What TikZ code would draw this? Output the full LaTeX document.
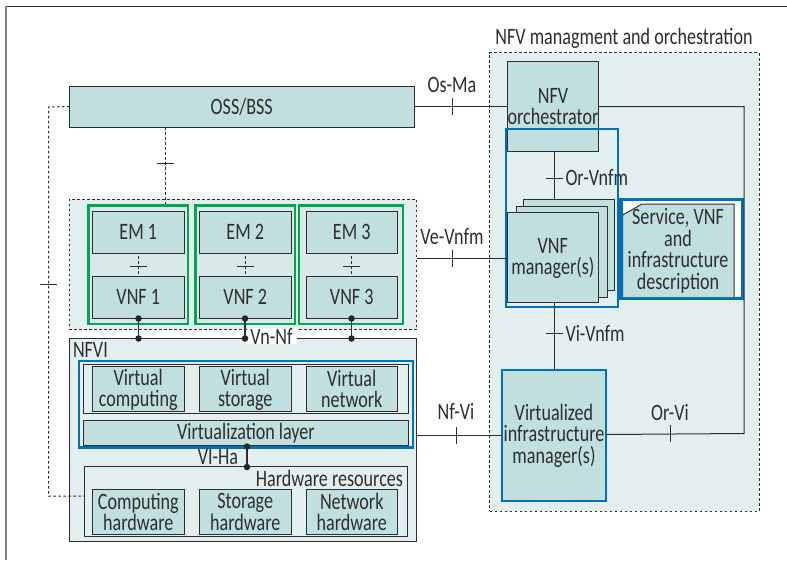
\documentclass[tikz,border=0pt]{standalone}
\usepackage{fontspec}
\setmainfont[FakeStretch=0.77]{Carlito}
\usetikzlibrary{calc}
\definecolor{boxfill}{HTML}{C1DFDF}
\definecolor{pale}{HTML}{E3EFEF}
\definecolor{mid}{HTML}{D8E9E8}
\definecolor{ink}{HTML}{2E2E2E}
\definecolor{grn}{HTML}{00A651}
\definecolor{blu}{HTML}{0070BA}
\newcommand\bx[7][]{%
  \pgfmathsetmacro\bxw{#4-#2}\pgfmathsetmacro\bxh{#5-#3}%
  \node[#6,minimum width=\bxw pt,minimum height=\bxh pt,#1] (#7) at ({(#2+#4)/2},{(#3+#5)/2}) {};}
\newcommand\tickh[2]{\draw[tick] ($(#1,#2)+(-8.5,0)$) -- ($(#1,#2)+(8.5,0)$);}
\newcommand\tickv[2]{\draw[tick] ($(#1,#2)+(0,-8.5)$) -- ($(#1,#2)+(0,8.5)$);}
\tikzset{
  x=1pt,y=-1pt,
  every node/.style={inner sep=0pt,outer sep=0pt,text=ink,font=\fontsize{23.5}{21.5}\selectfont,align=center},
  fbox/.style={draw=ink,line width=1pt,fill=boxfill},
  plain/.style={draw=ink,line width=1pt,fill=pale},
  dregion/.style={draw=ink,line width=1pt,dash pattern=on 2.5pt off 2.5pt,fill=pale},
  grp/.style={draw=grn,line width=2.6pt,fill=mid},
  blubox/.style={draw=blu,line width=2.8pt},
  wire/.style={draw=ink,line width=1pt},
  tick/.style={draw=ink,line width=.8pt},
  dwire/.style={draw=ink,line width=1pt,dash pattern=on 2.5pt off 2.5pt},
  dot/.style={circle,fill=black!85,minimum size=6.5pt},
}
\begin{document}
\begin{tikzpicture}
\useasboundingbox (0,0) rectangle (787,560);
\fill[white] (0,0) rectangle (787,560);
\draw[black!85,line width=1pt] (787,6.3) -- (6,6.3);
\draw[black!50,line width=1.2pt] (6,6.3) -- (6,560);

% regions
\bx{489.5}{52.7}{759}{511}{dregion}{mano}
\bx{69}{199}{416.5}{329.5}{dregion}{vnflayer}
\bx{69}{338}{416.5}{541}{plain}{nfvi}

% OSS
\bx{69.5}{86}{414}{127}{fbox}{oss}
\node at (oss.center) {OSS/BSS};

% VNF columns
\foreach \n/\a/\b/\c/\d in {1/88.5/188/92.5/184,2/195.5/295/199.5/291,3/299/403/306/397.5}{
  \bx{\a}{205.5}{\b}{324}{grp}{g\n}
  \bx{\c}{211}{\d}{253}{fbox}{em\n}
  \node at (em\n.center) {EM \n};
  \bx{\c}{276}{\d}{318.5}{fbox}{vnf\n}
  \node at (vnf\n.center) {VNF \n};
  \draw[dwire] (em\n.south) ++(0,3) -- (vnf\n.north);
  \path (em\n.south) -- (vnf\n.north) coordinate[midway] (m\n);
  \draw[tick] ($(m\n)+(-8.5,2)$) -- ($(m\n)+(8.5,2)$);
}

% Virtualisation block
\bx{83}{364.5}{408.5}{413.5}{plain}{virt}
\bx{92.5}{366.5}{184}{411.5}{fbox}{vc}
\node[yshift=-1pt] at (vc.center) {Virtual\\computing};
\bx{199.5}{366.5}{291}{411.5}{fbox}{vs}
\node[yshift=-1pt] at (vs.center) {Virtual\\storage};
\bx{306}{366.5}{397.5}{411.5}{fbox}{vn}
\node at (vn.center) {Virtual\\network};
\bx{83.5}{420}{408.5}{445.5}{fbox}{vlayer}
\node at (vlayer.center) {Virtualization layer};
\bx[fill=none]{79}{361}{413}{447.5}{blubox}{vblue}

% Hardware
\bx{84}{466.5}{407.5}{536.5}{plain}{hw}
\node[anchor=east] (hwlab) at (403,478) {Hardware resources};
\bx{92.5}{489.5}{184}{534.5}{fbox}{hc}
\node at (hc.center) {Computing\\hardware};
\bx{199.5}{489.5}{291}{534.5}{fbox}{hs}
\node at (hs.center) {Storage\\hardware};
\bx{306}{489.5}{397.5}{534.5}{fbox}{hn}
\node at (hn.center) {Network\\hardware};
\node[anchor=west] (nfvilab) at (73,350) {NFVI};

% Vn-Nf
\node[fill=white,minimum width=50pt,minimum height=15pt] (vnnf) at (271.5,336) {Vn-Nf};
\foreach \n/\x in {1/138.5,2/245,3/351.5}{
  \coordinate (top\n) at (\x,318.5);
  \coordinate (bot\n) at (\x,338.5);
  \draw[wire,line width=1.2pt] (top\n) -- (bot\n);
  \node[dot] at (top\n) {};
  \node[dot] at (bot\n) {};
}
% VI-Ha
\coordinate (via) at (247,446.5);
\coordinate (vib) at (247,467);
\draw[wire,line width=1.2pt] (via) -- (vib);
\node[dot] at (via) {};
\node[dot] at (vib) {};
\node (viha) at (218,457) {VI-Ha};

% dashed left links
\coordinate (ossw) at (48.5,107);
\coordinate (hww) at (48.5,496);
\draw[dwire] (oss.west) -- (ossw) -- (hww) -- (hw.west |- hww);
\tickh{48.5}{284}
\coordinate (ossdown) at (165,127);
\coordinate (vnftop) at (165,204);
\draw[dwire] (ossdown) -- (vnftop);
\tickh{165}{163}

% MANO content
\bx{523.5}{199}{614}{290}{fbox}{st3}
\bx{516.7}{206}{607}{297}{fbox}{st2}
\bx{507.7}{212}{598}{302.7}{fbox}{vnfm}
\node[yshift=-1pt] at (vnfm.center) {VNF\\manager(s)};
\bx{507.7}{61}{598}{151.7}{fbox}{orch}
\node at (553,106.5) {NFV\\orchestrator};
\bx[fill=none]{506}{129}{618}{307}{draw=blu,line width=2.2pt}{mblue}
\bx{502}{370}{606}{501}{fbox,draw=blu,line width=2.6pt}{vim}
\node at (vim.center) {Virtualized\\infrastructure\\manager(s)};

% description
\bx{619}{199}{742.5}{298}{draw=blu,line width=3pt,fill=white}{dblue}
\draw[ink,line width=1pt,fill=boxfill] (622.7,297) -- (622.7,215) -- (642,204) -- (734,204) -- (734,297);
\node (desc) at (678,251) {Service, VNF\\and\\infrastructure\\description};
\draw[blu,line width=3pt] (621,199) -- (621,298);

% connectors
\coordinate (orchr) at (orch.east |- 0,106.5);
\coordinate (corner1) at (744,106.5);
\coordinate (corner2) at (744,433.5);
\coordinate (vimr) at (vim.east |- 0,434.5);
\draw[wire] (oss.east |- orchr) -- (orch.west |- orchr);
\tickv{452.5}{106.5}
\node (osma) at (452,85) {Os-Ma};
\draw[wire] (orch.south -| 554,0) -- (st3.north -| 554,0);
\tickh{554}{178.5}
\node[anchor=west] (orvnfm) at (565.5,178) {Or-Vnfm};
\draw[wire] (vnflayer.east |- 0,258) -- (vnfm.west |- 0,258);
\tickv{452.5}{258}
\node (vevnfm) at (452,237) {Ve-Vnfm};
\draw[wire] (vnfm.south -| 554,0) -- (vim.north -| 554,0);
\tickh{554}{333.5}
\node[anchor=west] (vivnfm) at (565.5,333) {Vi-Vnfm};
\draw[wire] (nfvi.east |- 0,435.5) -- (vim.west |- 0,435.5);
\tickv{456}{435.5}
\node (nfvi2) at (456,411) {Nf-Vi};
\draw[wire] (orchr) -- (corner1) -- (corner2) -- (vimr);
\tickv{670}{433.5}
\node (orvi) at (670,412) {Or-Vi};
\node[anchor=south] (manolab) at (624,49) {NFV managment and orchestration};
\end{tikzpicture}
\end{document}
